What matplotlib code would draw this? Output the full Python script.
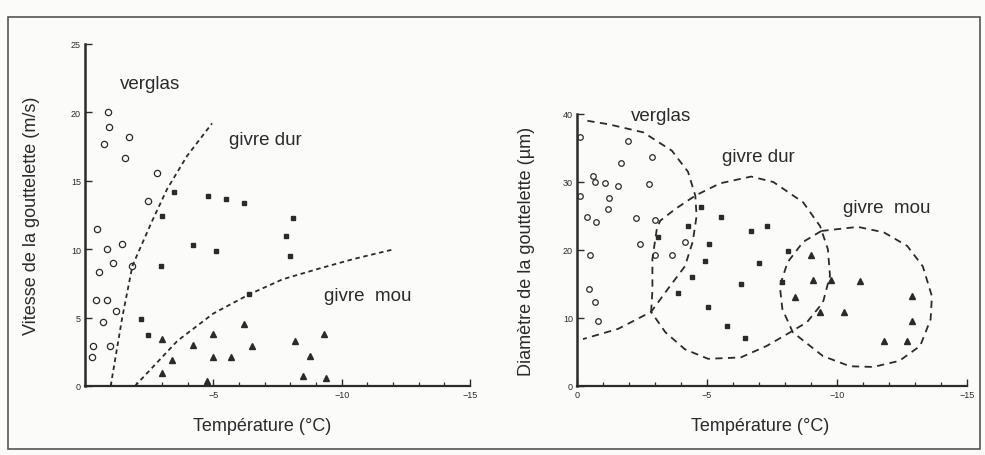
import numpy as np
import matplotlib.pyplot as plt
from matplotlib.ticker import MultipleLocator

plt.rcParams['font.family'] = ['Liberation Sans', 'DejaVu Sans']

# --- left panel : droplet speed vs temperature ---
vT_verglas = [ -0.9, -0.93, -0.74, -1.7, -1.56, -2.8, -2.45, -0.47, -1.44, -0.86,
               -1.1, -1.85, -0.55, -0.43, -0.85, -1.2, -0.7, -0.3, -0.97, -0.27 ]
vV_verglas = [ 20.0, 18.9, 17.7, 18.2, 16.7, 15.6, 13.5, 11.5, 10.4, 10.0,
               9.0, 8.8, 8.3, 6.3, 6.3, 5.5, 4.7, 2.9, 2.9, 2.1 ]

vT_dur = [ -3.46, -4.8, -5.5, -6.2, -3.0, -4.2, -5.1, -2.96, -2.18, -2.45,
           -6.4, -8.1, -7.85, -8.0 ]
vV_dur = [ 14.2, 13.9, 13.7, 13.4, 12.4, 10.3, 9.9, 8.8, 4.9, 3.7,
           6.7, 12.3, 11.0, 9.5 ]

vT_mou = [ -3.0, -4.2, -5.0, -6.2, -6.5, -3.4, -5.0, -5.7, -3.0, -4.75,
           -8.2, -9.3, -8.75, -8.5, -9.4 ]
vV_mou = [ 3.4, 3.0, 3.8, 4.5, 2.9, 1.9, 2.1, 2.1, 0.95, 0.35,
           3.3, 3.8, 2.2, 0.7, 0.6 ]

# limits between regimes
lim1_T = [ -1.0, -1.45, -1.85, -2.6, -3.2, -3.97, -4.95 ]
lim1_V = [ 0.0, 5.0, 8.8, 12.0, 14.4, 16.8, 19.2 ]
lim2_T = [ -1.95, -3.6, -5.0, -6.4, -7.7, -9.15, -10.5, -12.05 ]
lim2_V = [ 0.0, 3.3, 5.3, 6.7, 7.8, 8.6, 9.3, 10.0 ]

# --- right panel : droplet diameter vs temperature ---
dT_verglas = [ -0.12, -1.97, -2.9, -1.7, -0.6, -0.7, -1.08, -1.57, -2.77, -0.12,
               -1.23, -1.2, -0.38, -0.73, -2.27, -3.0, -0.5, -2.42, -3.0, -3.65,
               -4.15, -0.46, -0.7, -0.8 ]
dD_verglas = [ 36.6, 36.0, 33.7, 32.8, 30.9, 30.0, 29.85, 29.4, 29.7, 27.9,
               27.6, 26.0, 24.8, 24.1, 24.7, 24.4, 19.3, 20.9, 19.3, 19.3,
               21.2, 14.3, 12.4, 9.6 ]

dT_dur = [ -4.77, -5.54, -4.27, -3.12, -5.08, -4.92, -4.42, -3.9, -5.04, -6.3,
           -6.7, -5.77, -6.46, -7.3, -7.0, -8.1, -7.9 ]
dD_dur = [ 26.3, 24.8, 23.5, 21.9, 20.9, 18.4, 16.0, 13.7, 11.6, 15.0,
           22.8, 8.8, 7.1, 23.5, 18.1, 19.8, 15.3 ]

dT_mou = [ -9.0, -9.07, -9.77, -10.9, -8.4, -9.35, -10.27, -12.9, -12.9, -11.8, -12.7 ]
dD_mou = [ 19.2, 15.6, 15.6, 15.5, 13.1, 10.9, 10.9, 13.2, 9.6, 6.6, 6.6 ]

zone_verglas_T = [ -0.4, -1.2, -2.55, -3.65, -4.27, -4.55, -4.6, -4.45, -4.15, -3.5,
                   -2.85, -1.58, -0.23 ]
zone_verglas_D = [ 39.0, 38.5, 37.3, 34.6, 31.5, 28.0, 25.0, 21.2, 17.6, 14.3,
                   10.9, 8.4, 6.9 ]

zone_dur_T = [ -2.85, -2.9, -2.9, -3.07, -3.2, -3.77, -4.55, -5.5, -6.7, -7.55,
               -8.7, -9.35, -9.65, -9.73, -9.46, -8.85, -8.2, -7.3, -6.3, -5.04,
               -4.15, -3.4, -2.85 ]
zone_dur_D = [ 10.9, 14.0, 18.7, 23.1, 24.3, 26.0, 28.0, 29.8, 30.8, 30.0,
               27.0, 23.5, 20.1, 16.2, 12.3, 9.4, 7.9, 5.9, 4.2, 4.0,
               5.4, 7.9, 10.9 ]

zone_mou_T = [ -9.4, -10.8, -11.8, -12.7, -13.3, -13.65, -13.6, -13.2, -12.4, -11.4,
               -10.5, -9.46, -8.3, -7.9, -7.8, -8.1, -8.7, -9.4 ]
zone_mou_D = [ 22.8, 23.4, 22.6, 20.6, 17.6, 13.2, 9.8, 5.9, 3.7, 2.8,
               2.9, 4.4, 7.9, 11.3, 14.7, 18.2, 21.2, 22.8 ]

ink = '#2b2b2b'
fs  = 13.0    # axis titles
fz  = 13.5    # zone names

fig = plt.figure( figsize = ( 9.85, 4.56 ), dpi = 100 )
fig.patch.set_facecolor( '#fbfbfa' )

axL = fig.add_axes( [ 85/985, 1-387/456, 385/985, 342/456 ] )
axR = fig.add_axes( [ 577/985, 1-387/456, 390/985, 272/456 ] )

for ax in [ axL, axR ]:
    ax.set_facecolor( 'none' )
    ax.spines['top'].set_visible( False )
    ax.spines['right'].set_visible( False )
    ax.spines['left'].set_linewidth( 1.8 )
    ax.spines['bottom'].set_linewidth( 1.6 )
    ax.spines['left'].set_color( ink )
    ax.spines['bottom'].set_color( ink )
    ax.set_xlim( 0, -15 )
    ax.xaxis.set_minor_locator( MultipleLocator( 1 ) )
    ax.tick_params( which = 'major', direction = 'in', length = 5, width = 1.0,
                    color = ink, labelsize = 6.5, labelcolor = ink, pad = 3 )
    ax.tick_params( which = 'minor', direction = 'in', length = 3, width = 0.9,
                    color = ink )
    ax.tick_params( axis = 'y', which = 'minor', length = 0 )

mk = dict( ls = 'none', clip_on = False )

# left
axL.set_ylim( 0, 25 )
axL.set_xticks( [ -5, -10, -15 ] )
axL.set_yticks( [ 0, 5, 10, 15, 20, 25 ] )
axL.plot( vT_verglas, vV_verglas, marker = 'o', ms = 4.5, mfc = 'none', mec = ink, mew = 0.9, **mk )
axL.plot( vT_dur, vV_dur, marker = 's', ms = 3.5, mfc = ink, mec = ink, **mk )
axL.plot( vT_mou, vV_mou, marker = '^', ms = 4.5, mfc = ink, mec = ink, **mk )
axL.plot( lim1_T, lim1_V, color = ink, lw = 1.3, ls = ( 0, ( 2.5, 2 ) ) )
axL.plot( lim2_T, lim2_V, color = ink, lw = 1.3, ls = ( 0, ( 2.5, 2 ) ) )
axL.text( -2.53, 22.1, 'verglas', fontsize = fz, color = ink, ha = 'center', va = 'center' )
axL.text( -7.04, 18.05, 'givre dur', fontsize = fz, color = ink, ha = 'center', va = 'center' )
axL.text( -11.0, 6.6, 'givre  mou', fontsize = fz, color = ink, ha = 'center', va = 'center' )
axL.set_xlabel( 'Température (°C)', fontsize = fs, color = ink )
axL.set_ylabel( 'Vitesse de la gouttelette (m/s)', fontsize = fs, color = ink )
axL.xaxis.set_label_coords( 0.46, -0.09 )
axL.yaxis.set_label_coords( -0.117, 0.5 )

# right
axR.set_ylim( 0, 40 )
axR.set_xticks( [ 0, -5, -10, -15 ] )
axR.set_yticks( [ 0, 10, 20, 30, 40 ] )
axR.plot( dT_verglas, dD_verglas, marker = 'o', ms = 4.0, mfc = 'none', mec = ink, mew = 0.9, **mk )
axR.plot( dT_dur, dD_dur, marker = 's', ms = 3.3, mfc = ink, mec = ink, **mk )
axR.plot( dT_mou, dD_mou, marker = '^', ms = 4.5, mfc = ink, mec = ink, **mk )
for zT, zD in [ ( zone_verglas_T, zone_verglas_D ), ( zone_dur_T, zone_dur_D ),
                ( zone_mou_T, zone_mou_D ) ]:
    axR.plot( zT, zD, color = ink, lw = 1.3, ls = ( 0, ( 4, 3 ) ), clip_on = False )
axR.text( -3.23, 39.85, 'verglas', fontsize = fz, color = ink, ha = 'center', va = 'center' )
axR.text( -6.96, 33.7, 'givre dur', fontsize = fz, color = ink, ha = 'center', va = 'center' )
axR.text( -11.9, 26.3, 'givre  mou', fontsize = fz, color = ink, ha = 'center', va = 'center' )
axR.set_xlabel( 'Température (°C)', fontsize = fs, color = ink )
axR.set_ylabel( 'Diamètre de la gouttelette (µm)', fontsize = fs, color = ink )
axR.xaxis.set_label_coords( 0.47, -0.114 )
axR.yaxis.set_label_coords( -0.108, 0.5 )

# frame of the scanned figure
fig.add_artist( plt.Rectangle( ( 8/985, 1-450/456 ), 972/985, 432/456,
                               transform = fig.transFigure, fill = False,
                               ec = '#555555', lw = 1.2 ) )

plt.savefig( 'out.png', dpi = 100, facecolor = fig.get_facecolor() )
